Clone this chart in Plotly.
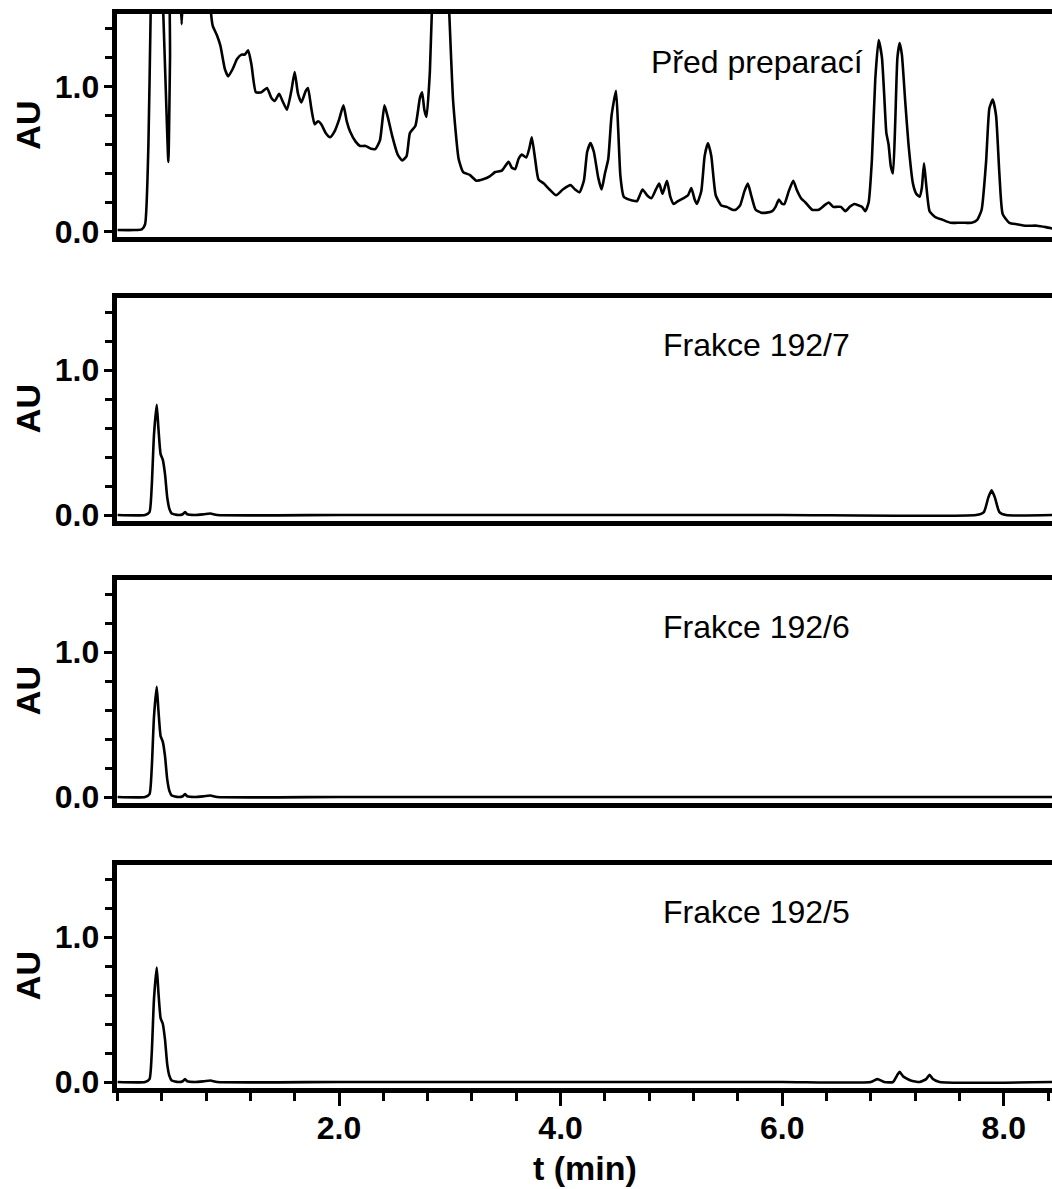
import plotly.graph_objects as go

# ---------------- data ----------------
t_pred = [0.00, 0.15, 0.22, 0.25, 0.28, 0.30, 0.32, 0.38, 0.41, 0.44, 0.46, 0.475, 0.49, 0.54, 0.57, 0.58, 0.59, 0.62,
          0.80, 0.84, 0.86, 0.90, 0.93, 0.97, 1.00, 1.04, 1.08, 1.12, 1.15, 1.18, 1.21, 1.25, 1.30, 1.35, 1.39, 1.42,
          1.46, 1.49, 1.53, 1.57, 1.60, 1.63, 1.66, 1.70, 1.72, 1.75, 1.78, 1.81, 1.84, 1.88, 1.92, 1.96, 2.00, 2.04,
          2.07, 2.10, 2.15, 2.19, 2.24, 2.29, 2.33, 2.37, 2.41, 2.44, 2.48, 2.53, 2.57, 2.61, 2.64, 2.69, 2.73, 2.75,
          2.77, 2.79, 2.82, 2.85, 2.88, 2.95, 2.99, 3.03, 3.08, 3.12, 3.18, 3.24, 3.30, 3.36, 3.41, 3.47, 3.53, 3.56,
          3.59, 3.62, 3.65, 3.69, 3.72, 3.74, 3.77, 3.80, 3.85, 3.90, 3.96, 4.02, 4.09, 4.13, 4.17, 4.21, 4.24, 4.27,
          4.30, 4.34, 4.37, 4.40, 4.43, 4.46, 4.50, 4.52, 4.54, 4.57, 4.62, 4.67, 4.69, 4.72, 4.74, 4.78, 4.82, 4.86,
          4.89, 4.92, 4.96, 4.99, 5.02, 5.06, 5.11, 5.15, 5.18, 5.21, 5.23, 5.27, 5.30, 5.33, 5.36, 5.40, 5.45, 5.50,
          5.55, 5.58, 5.62, 5.66, 5.69, 5.72, 5.76, 5.81, 5.86, 5.91, 5.94, 5.97, 6.00, 6.02, 6.06, 6.10, 6.13, 6.17,
          6.21, 6.27, 6.33, 6.38, 6.42, 6.46, 6.49, 6.53, 6.57, 6.61, 6.65, 6.69, 6.72, 6.75, 6.78, 6.81, 6.84, 6.87,
          6.90, 6.92, 6.94, 6.96, 6.98, 7.00, 7.02, 7.04, 7.06, 7.08, 7.11, 7.14, 7.18, 7.21, 7.24, 7.26, 7.28, 7.30,
          7.33, 7.38, 7.45, 7.52, 7.58, 7.65, 7.71, 7.76, 7.80, 7.84, 7.87, 7.90, 7.93, 7.96, 7.99, 8.05, 8.12, 8.20,
          8.30, 8.38, 8.44]
au_pred = [0.01, 0.01, 0.015, 0.05, 0.6, 1.5, 2.2, 2.2, 1.6, 0.9, 0.48, 1.2, 2.2, 2.2, 1.6, 1.43, 1.6, 2.2,
           2.2, 1.55, 1.42, 1.35, 1.28, 1.12, 1.07, 1.12, 1.19, 1.22, 1.22, 1.25, 1.15, 0.96, 0.96, 0.99, 0.92, 0.90,
           0.95, 0.90, 0.84, 0.97, 1.10, 0.95, 0.89, 0.97, 0.99, 0.85, 0.74, 0.76, 0.74, 0.68, 0.65, 0.69, 0.77, 0.87,
           0.76, 0.69, 0.62, 0.59, 0.59, 0.57, 0.57, 0.63, 0.87, 0.79, 0.66, 0.53, 0.49, 0.52, 0.68, 0.73, 0.92, 0.96,
           0.84, 0.79, 1.1, 1.8, 2.2, 2.2, 1.6, 0.9, 0.5, 0.41, 0.39, 0.35, 0.36, 0.38, 0.41, 0.42, 0.48, 0.44,
           0.43, 0.50, 0.53, 0.51, 0.58, 0.65, 0.50, 0.36, 0.33, 0.29, 0.25, 0.29, 0.32, 0.29, 0.27, 0.35, 0.55, 0.61,
           0.55, 0.37, 0.29, 0.40, 0.50, 0.80, 0.97, 0.70, 0.38, 0.24, 0.22, 0.21, 0.21, 0.26, 0.29, 0.25, 0.23, 0.29,
           0.33, 0.26, 0.35, 0.24, 0.19, 0.21, 0.23, 0.25, 0.30, 0.22, 0.19, 0.28, 0.52, 0.61, 0.52, 0.25, 0.18, 0.17,
           0.15, 0.15, 0.18, 0.28, 0.33, 0.25, 0.15, 0.13, 0.13, 0.14, 0.17, 0.22, 0.19, 0.19, 0.28, 0.35, 0.29, 0.23,
           0.20, 0.15, 0.15, 0.18, 0.20, 0.17, 0.17, 0.17, 0.14, 0.17, 0.19, 0.18, 0.17, 0.14, 0.20, 0.50, 1.05, 1.32,
           1.20, 0.95, 0.68, 0.60, 0.45, 0.40, 0.75, 1.20, 1.30, 1.22, 0.90, 0.60, 0.33, 0.26, 0.24, 0.30, 0.47, 0.32,
           0.14, 0.10, 0.08, 0.06, 0.06, 0.06, 0.06, 0.08, 0.15, 0.48, 0.85, 0.91, 0.80, 0.40, 0.12, 0.06, 0.05, 0.04,
           0.04, 0.03, 0.02]

t_f7 = [0.00, 0.25, 0.29, 0.31, 0.33, 0.355, 0.37, 0.39, 0.41, 0.43, 0.45, 0.47, 0.49, 0.55, 0.59, 0.61, 0.63,
        0.70, 0.78, 0.84, 0.90, 2.00, 4.00, 6.00, 7.75, 7.82, 7.86, 7.89, 7.92, 7.96, 8.02, 8.44]
au_f7 = [0.0, 0.0, 0.02, 0.2, 0.55, 0.76, 0.60, 0.42, 0.38, 0.28, 0.12, 0.04, 0.01, 0.0, 0.005, 0.02, 0.005,
         0.0, 0.005, 0.01, 0.0, 0.0, 0.0, 0.0, 0.0, 0.02, 0.12, 0.17, 0.12, 0.02, 0.0, 0.0]

t_f6 = [0.00, 0.25, 0.29, 0.31, 0.33, 0.355, 0.37, 0.39, 0.41, 0.43, 0.45, 0.47, 0.49, 0.55, 0.59, 0.61, 0.63,
        0.70, 0.78, 0.84, 0.90, 2.00, 4.00, 6.00, 8.44]
au_f6 = [0.0, 0.0, 0.02, 0.2, 0.55, 0.76, 0.60, 0.42, 0.38, 0.28, 0.12, 0.04, 0.01, 0.0, 0.005, 0.02, 0.005,
         0.0, 0.005, 0.01, 0.0, 0.0, 0.0, 0.0, 0.0]

t_f5 = [0.00, 0.25, 0.29, 0.31, 0.33, 0.355, 0.37, 0.39, 0.41, 0.43, 0.45, 0.47, 0.49, 0.55, 0.59, 0.61, 0.63,
        0.70, 0.78, 0.84, 0.90, 2.00, 4.00, 6.00, 6.80, 6.86, 6.92, 7.00, 7.04, 7.06, 7.09, 7.12, 7.16, 7.24,
        7.30, 7.33, 7.36, 7.42, 8.44]
au_f5 = [0.0, 0.0, 0.02, 0.2, 0.57, 0.79, 0.62, 0.44, 0.40, 0.29, 0.12, 0.04, 0.01, 0.0, 0.005, 0.02, 0.005,
         0.0, 0.005, 0.01, 0.0, 0.0, 0.0, 0.0, 0.0, 0.02, 0.0, 0.0, 0.05, 0.07, 0.04, 0.025, 0.01, 0.0,
         0.02, 0.05, 0.02, 0.0, 0.0]

panels = [
    (t_pred, au_pred, "Před preparací"),
    (t_f7, au_f7, "Frakce 192/7"),
    (t_f6, au_f6, "Frakce 192/6"),
    (t_f5, au_f5, "Frakce 192/5"),
]

x_tickvals = [2, 4, 6, 8]
x_ticktext = ["2.0", "4.0", "6.0", "8.0"]
y_tickvals = [0, 1]
y_ticktext = ["0.0", "1.0"]

# ---------------- layout geometry ----------------
W, H = 1052, 1189
tops = [14, 297.5, 579.5, 864.5]
ph = 223.3
x_left = 117.4 / W
FAM = "Liberation Sans, Arial, sans-serif"

fig = go.Figure()
tick_font = dict(family=FAM, size=32, color="black", weight="bold")

for i, (tx, ay, label) in enumerate(panels):
    n = i + 1
    xa = "x" if n == 1 else f"x{n}"
    ya = "y" if n == 1 else f"y{n}"
    fig.add_trace(go.Scatter(x=tx, y=ay, mode="lines", xaxis=xa, yaxis=ya,
                             line=dict(color="black", width=2.6, shape="spline", smoothing=0.5),
                             showlegend=False, hoverinfo="skip"))
    top = tops[i]
    dom = [1 - (top + ph) / H, 1 - top / H]
    last = (n == 4)
    xkey = "xaxis" if n == 1 else f"xaxis{n}"
    ykey = "yaxis" if n == 1 else f"yaxis{n}"
    fig.update_layout(**{
        xkey: dict(domain=[x_left, 1.0], range=[0, 8.435], anchor=ya,
                   showline=True, linecolor="black", linewidth=4.5, mirror=True,
                   showgrid=False, zeroline=False, automargin=False,
                   tickmode="array", tickvals=x_tickvals, ticktext=x_ticktext,
                   showticklabels=last, ticks="outside" if last else "",
                   ticklen=13, tickwidth=3, tickcolor="black",
                   tickfont=tick_font, ticklabelstandoff=-5,
                   minor=dict(ticks="outside" if last else "", tickmode="linear", tick0=0, dtick=0.4,
                              ticklen=8, tickwidth=3, tickcolor="black", showgrid=False),
                   fixedrange=True),
        ykey: dict(domain=dom, range=[-0.04, 1.5], anchor=xa,
                   showline=True, linecolor="black", linewidth=4.5, mirror=False,
                   showgrid=False, zeroline=False, automargin=False,
                   tickmode="array", tickvals=y_tickvals, ticktext=y_ticktext,
                   ticks="outside", ticklen=9, tickwidth=3, tickcolor="black",
                   tickfont=tick_font, ticklabelstandoff=-2,
                   minor=dict(ticks="outside", tickmode="linear", tick0=0, dtick=0.2,
                              ticklen=8, tickwidth=3, tickcolor="black", showgrid=False),
                   fixedrange=True),
    })
    fig.add_annotation(x=5.77, y=1.17, xref=xa, yref=ya, text=label, showarrow=False,
                       xanchor="center", yanchor="middle",
                       font=dict(family=FAM, size=32, color="black"))
    fig.add_annotation(x=28 / W, y=1 - (top + ph / 2) / H, xref="paper", yref="paper",
                       text="<b>AU</b>", textangle=-90, showarrow=False,
                       xanchor="center", yanchor="middle",
                       font=dict(family=FAM, size=34, color="black"))

fig.add_annotation(x=(117.4 + W) / 2 / W, y=1 - 1168 / H, xref="paper", yref="paper",
                   text="<b>t (min)</b>", showarrow=False, xanchor="center", yanchor="middle",
                   font=dict(family=FAM, size=34, color="black"))

fig.update_layout(width=W, height=H, margin=dict(l=0, r=0, t=0, b=0),
                  paper_bgcolor="white", plot_bgcolor="white",
                  font=dict(family=FAM, color="black"))

fig.write_html("out.html")
